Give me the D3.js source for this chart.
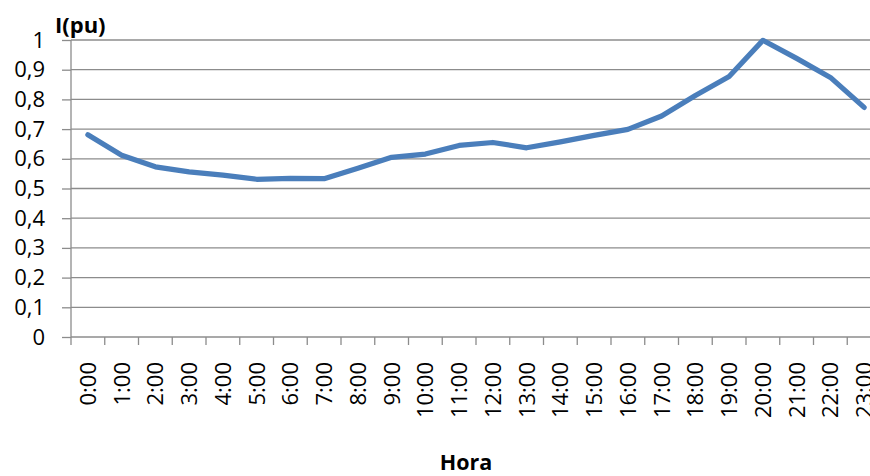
<!DOCTYPE html>
<html>
<head>
<meta charset="utf-8">
<script src="https://cdn.jsdelivr.net/npm/d3@7"></script>
<style>
  html, body { margin: 0; padding: 0; background: #fff; }
  svg { display: block; font-family: "Open Sans", "Liberation Sans", sans-serif; }
</style>
</head>
<body>
<svg id="chart" width="870" height="476"></svg>
<script>
// Hourly current profile (per unit)
const hours = ["0:00","1:00","2:00","3:00","4:00","5:00","6:00","7:00","8:00","9:00","10:00","11:00",
               "12:00","13:00","14:00","15:00","16:00","17:00","18:00","19:00","20:00","21:00","22:00","23:00"];
const current = [0.681,0.612,0.573,0.556,0.545,0.531,0.534,0.533,0.568,0.605,0.616,0.645,
                 0.655,0.637,0.657,0.679,0.699,0.744,0.813,0.877,0.999,0.938,0.874,0.773];
const yTicks = [0,0.1,0.2,0.3,0.4,0.5,0.6,0.7,0.8,0.9,1];
const yTickLabels = ["0","0,1","0,2","0,3","0,4","0,5","0,6","0,7","0,8","0,9","1"];

const svg = d3.select("#chart");
// the plot area runs past the right edge of the page, so the last label is clipped
const plotLeft = 71, plotRight = 881, plotTop = 40, plotBottom = 337;

const x = d3.scaleBand().domain(hours).range([plotLeft, plotRight]).paddingInner(0).paddingOuter(0);
const y = d3.scaleLinear().domain([0, 1]).range([plotBottom, plotTop]);

const gridColor = "#8c8c8c";

// horizontal gridlines
svg.append("g")
  .selectAll("line")
  .data(yTicks.filter(d => d > 0))
  .join("line")
  .attr("x1", plotLeft).attr("x2", plotRight)
  .attr("y1", d => y(d)).attr("y2", d => y(d))
  .attr("stroke", gridColor).attr("stroke-width", 1.3);

// y axis
const yAxis = d3.axisLeft(y)
  .tickValues(yTicks)
  .tickSize(9)
  .tickPadding(17)
  .tickFormat((d, i) => yTickLabels[i]);
const gy = svg.append("g").attr("transform", `translate(${plotLeft},0)`).call(yAxis);
gy.select(".domain").attr("stroke", gridColor).attr("stroke-width", 1.3)
  .attr("d", `M0,${plotTop}V${plotBottom}`);
gy.selectAll(".tick line").attr("stroke", gridColor).attr("stroke-width", 1.3);
gy.selectAll(".tick text").attr("font-size", 22).attr("fill", "#000")
  .attr("font-family", "'Open Sans', sans-serif");

// x axis: ticks on category boundaries
const xAxisG = svg.append("g");
xAxisG.append("line")
  .attr("x1", plotLeft).attr("x2", plotRight)
  .attr("y1", plotBottom).attr("y2", plotBottom)
  .attr("stroke", gridColor).attr("stroke-width", 1.3);
const boundaries = hours.map(h => x(h));
xAxisG.selectAll("line.tk")
  .data(boundaries)
  .join("line")
  .attr("class", "tk")
  .attr("x1", d => d).attr("x2", d => d)
  .attr("y1", plotBottom).attr("y2", plotBottom + 8)
  .attr("stroke", gridColor).attr("stroke-width", 1.3);

// rotated hour labels
xAxisG.selectAll("text")
  .data(hours)
  .join("text")
  .attr("transform", d => `translate(${x(d) + x.bandwidth() / 2 + 8},362) rotate(-90)`)
  .attr("text-anchor", "end")
  .attr("font-size", 22)
  .attr("fill", "#000")
  .text(d => d);

// series line
const line = d3.line()
  .x((d, i) => x(hours[i]) + x.bandwidth() / 2)
  .y(d => y(d));
svg.append("path")
  .datum(current)
  .attr("d", line)
  .attr("fill", "none")
  .attr("stroke", "#4a7ebb")
  .attr("stroke-width", 5.2)
  .attr("stroke-linejoin", "round")
  .attr("stroke-linecap", "round");

// axis titles
svg.append("text")
  .attr("x", 55).attr("y", 33)
  .attr("font-size", 22).attr("font-weight", "bold")
  .text("I(pu)");
svg.append("text")
  .attr("x", 466).attr("y", 470)
  .attr("text-anchor", "middle")
  .attr("font-size", 21.5).attr("font-weight", "bold")
  .text("Hora");
</script>
</body>
</html>
